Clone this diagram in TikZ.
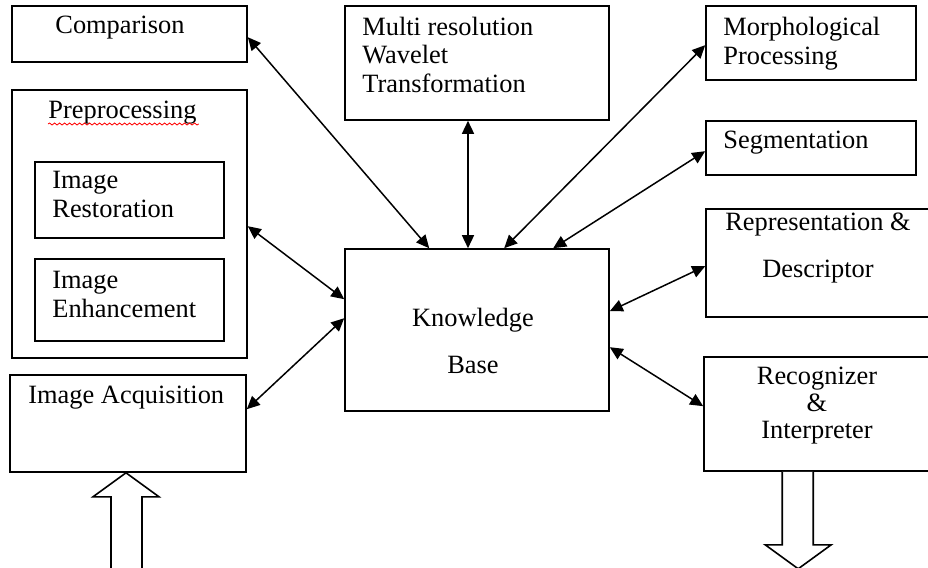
\documentclass[tikz,border=0pt]{standalone}
\usepackage{fontspec}
\setmainfont{Liberation Serif}
\usetikzlibrary{arrows.meta,calc,decorations.pathmorphing}

\tikzset{
  box/.style={draw, line width=0.8pt, rectangle, inner sep=0pt},
  lbl/.style={anchor=base west, inner sep=0pt, align=left, font=\fontsize{13.2}{14.5}\selectfont},
  clbl/.style={anchor=base, inner sep=0pt, align=center, font=\fontsize{13.2}{13.3}\selectfont},
  link/.style={{Triangle[length=6.5pt,width=6pt]}-{Triangle[length=6.5pt,width=6pt]}, line width=0.75pt},
  hollow/.style={draw, line width=0.8pt, fill=white}
}

\begin{document}
\begin{tikzpicture}[x=0.5pt,y=-0.5pt]

        \useasboundingbox (0,0) rectangle (928,568);
        \clip (0,0) rectangle (928,568);

        % Left column boxes
        \node[box, minimum width=117.5pt, minimum height=28pt] (cmp) at (129.5,34) {};
        \node[box, minimum width=117.5pt, minimum height=134pt] (pre) at (129.5,224) {};
        \node[box, minimum width=94.5pt, minimum height=38pt] (res) at (129.5,200) {};
        \node[box, minimum width=94.5pt, minimum height=41pt] (enh) at (129.5,300) {};
        \node[box, minimum width=118pt, minimum height=48.5pt] (acq) at (128,423.5) {};

        % Middle boxes
        \node[box, minimum width=132pt, minimum height=57pt] (mrw) at (477,63) {};
        \node[box, minimum width=132pt, minimum height=81pt] (kb) at (477,330) {};

        % Right column boxes
        \node[box, minimum width=105pt, minimum height=37pt] (mor) at (811,43) {};
        \node[box, minimum width=105pt, minimum height=27pt] (seg) at (811,148) {};
        \node[box, minimum width=120pt, minimum height=54pt] (rep) at (826,263) {};
        \node[box, minimum width=121pt, minimum height=57pt] (rec) at (825,414) {};

        % Labels (multi-line ones sit on their last baseline)
        \node[lbl] (cmptxt) at (55,33) {Comparison};
        \node[lbl] (pretxt) at (48,118) {Preprocessing};
        \node[lbl] (restxt) at (52,217) {Image\\Restoration};
        \node[lbl] (enhtxt) at (52,317) {Image\\Enhancement};
        \node[lbl] (acqtxt) at (28,403) {Image Acquisition};
        \node[lbl, font=\fontsize{13.2}{14.25}\selectfont] (mrwtxt) at (362,92) {Multi resolution\\Wavelet\\Transformation};
        \node[lbl] (mortxt) at (723,64) {Morphological\\Processing};
        \node[lbl] (segtxt) at (723,148) {Segmentation};
        \node[clbl] (reptxt) at (818,277) {Representation \&\\[10pt]Descriptor};
        \node[clbl] (rectxt) at (817,438) {Recognizer\\\&\\Interpreter};
        \node[clbl] (kbtxt) at (473,373) {Knowledge\\[10pt]Base};

        % Spelling mark under Preprocessing
        \draw[red, line width=0.4pt, decorate, decoration={snake, amplitude=0.5pt, segment length=2.5pt}]
          ($(pretxt.base west)+(0,6)$) -- ($(pretxt.base east)+(2,6)$);

        % Links to the knowledge base
        \draw[link] ($(cmp.north east)+(0,32)$) -- ($(kb.north west)+(85,0)$);
        \draw[link] ($(mrw.south)+(-9,0)$) -- ($(kb.north)+(-9,0)$);
        \draw[link] ($(mor.north west)+(0,40)$) -- ($(kb.north west)+(160,0)$);
        \draw[link] ($(seg.north west)+(0,31)$) -- ($(kb.north west)+(209,0)$);
        \draw[link] ($(pre.north east)+(0,137)$) -- ($(kb.north west)+(0,51)$);
        \draw[link] ($(acq.north east)+(0,35)$) -- ($(kb.north west)+(0,70)$);
        \draw[link] ($(rep.north west)+(0,58)$) -- ($(kb.north east)+(0,63)$);
        \draw[link] ($(rec.north west)+(0,50)$) -- ($(kb.north east)+(0,99)$);

        % Input arrow
        \draw[hollow, shift={(acq.south)}] (-17,110) -- (-17,24) -- (-35,24) -- (-2,0) -- (31,24) -- (14,24) -- (14,110);

        % Output arrow
        \draw[hollow, shift={(rec.south west)}] (79,0) -- (79,73) -- (62,73) -- (95,97) -- (128,73) -- (110,73) -- (110,0);

    \end{tikzpicture}
\end{document}
